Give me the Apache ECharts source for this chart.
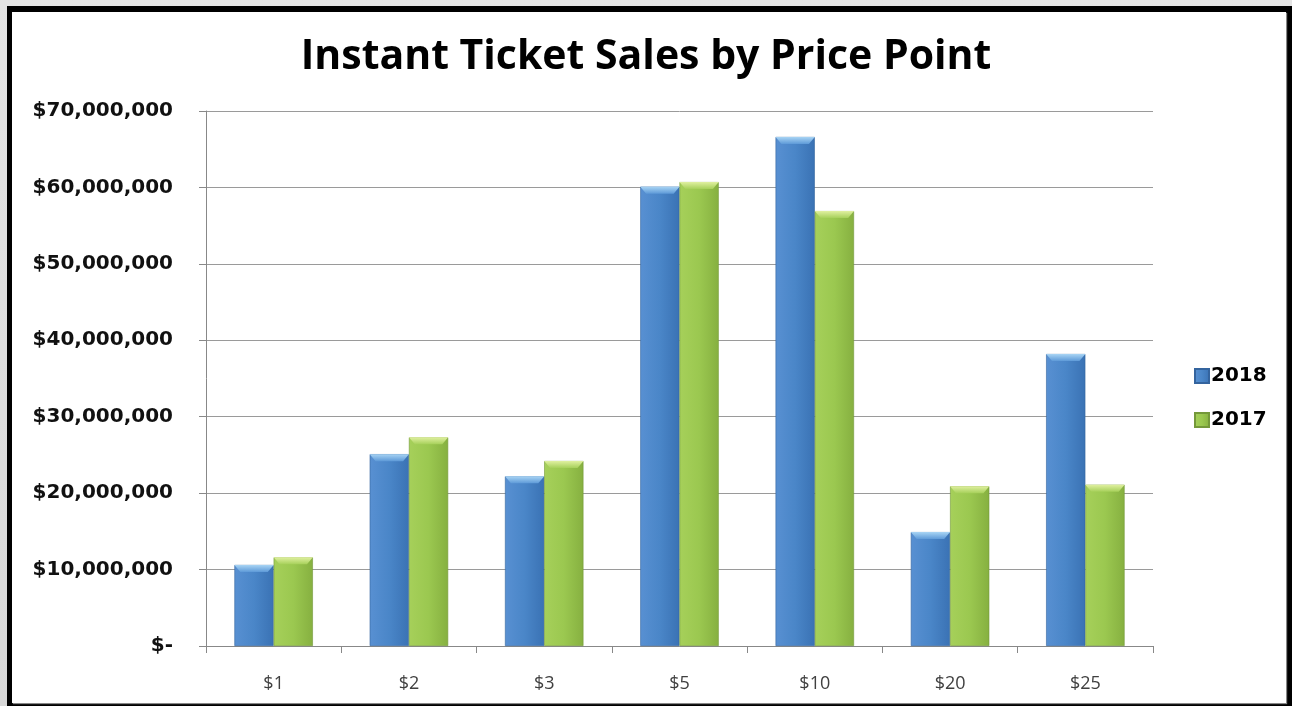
<!DOCTYPE html>
<html>
<head>
<meta charset="utf-8">
<script src="https://cdn.jsdelivr.net/npm/echarts@6/dist/echarts.min.js"></script>
<style>
html,body{margin:0;padding:0;width:1292px;height:706px;overflow:hidden;background:linear-gradient(#e4e4e4,#d8d8d8);}
#frame{position:absolute;left:7px;top:6px;width:1285px;height:700px;background:#000;}
#inner{position:absolute;left:12px;top:12px;width:1274px;height:691px;background:#fff;box-shadow:1px 1px 1px #888;}
#chart{position:absolute;left:0;top:0;width:1292px;height:706px;}
</style>
</head>
<body>
<div id="frame"></div>
<div id="inner"></div>
<div id="chart"></div>
<script>
const categories = ['$1', '$2', '$3', '$5', '$10', '$20', '$25'];
const sales2018 = [10600000, 25100000, 22200000, 60100000, 66600000, 14900000, 38200000];
const sales2017 = [11600000, 27300000, 24200000, 60700000, 56900000, 20900000, 21100000];
const yTicks = [0, 10000000, 20000000, 30000000, 40000000, 50000000, 60000000, 70000000];

function fmt(v){
  if (v === 0) return '$-';
  return '$' + v.toLocaleString('en-US');
}
const G = echarts.graphic;
const blueFill = new G.LinearGradient(0,0,1,0,[
  {offset:0,color:'#5890d2'},{offset:0.5,color:'#4a86c8'},{offset:1,color:'#3a72b4'}]);
const greenFill = new G.LinearGradient(0,0,1,0,[
  {offset:0,color:'#a6d05a'},{offset:0.5,color:'#9bc850'},{offset:1,color:'#86b040'}]);
const blueTop = new G.LinearGradient(0,0,0,1,[
  {offset:0,color:'#a8d4f4'},{offset:1,color:'#5e9ad8'}]);
const greenTop = new G.LinearGradient(0,0,0,1,[
  {offset:0,color:'#e0f0a0'},{offset:1,color:'#a6d05a'}]);
const bevel = 'path://M0,0 L20,0 L17,4 L3,4 Z';

const chart = echarts.init(document.getElementById('chart'));
chart.setOption({
  animation:false,
  backgroundColor:'transparent',
  title:{text:'Instant Ticket Sales by Price Point',left:'center',top:32,
    textStyle:{fontFamily:'Open Sans',fontWeight:'bold',fontSize:41,color:'#000'}},
  legend:{orient:'vertical',left:1189,top:361,itemWidth:14,itemHeight:14,itemGap:24,icon:'rect',
    data:['2018','2017'],
    textStyle:{fontFamily:'DejaVu Sans',fontWeight:'bold',fontSize:20,lineHeight:18,color:'#000',padding:[0,0,0,-3]}},
  grid:{left:206,top:111,right:139,bottom:60,containLabel:false},
  xAxis:{type:'category',data:categories,
    axisLine:{lineStyle:{color:'#888',width:1}},
    axisTick:{show:true,length:7,lineStyle:{color:'#888'}},
    axisLabel:{fontFamily:'Open Sans',fontSize:18,color:'#404040',margin:29}},
  yAxis:{type:'value',min:yTicks[0],max:yTicks[yTicks.length-1],interval:10000000,
    axisLine:{show:true,lineStyle:{color:'#888',width:1}},
    axisTick:{show:true,length:7,lineStyle:{color:'#888'}},
    splitLine:{lineStyle:{color:'#9a9a9a',width:1}},
    axisLabel:{fontFamily:'DejaVu Sans',fontWeight:'bold',fontSize:20,color:'#111',margin:33,formatter:fmt}},
  series:[
    {name:'2018',type:'bar',data:sales2018,barGap:'0%',barCategoryGap:'42%',
      itemStyle:{color:blueFill,borderColor:'#34649e',borderWidth:0.6}},
    {name:'2017',type:'bar',data:sales2017,barGap:'0%',barCategoryGap:'42%',
      itemStyle:{color:greenFill,borderColor:'#74983a',borderWidth:0.6}},
    {name:'2018',type:'pictorialBar',data:sales2018,barGap:'0%',barCategoryGap:'42%',
      symbol:bevel,symbolSize:['100%',7],symbolPosition:'end',symbolOffset:[0,0],
      itemStyle:{color:blueTop},z:5,silent:true},
    {name:'2017',type:'pictorialBar',data:sales2017,barGap:'0%',barCategoryGap:'42%',
      symbol:bevel,symbolSize:['100%',7],symbolPosition:'end',symbolOffset:[0,0],
      itemStyle:{color:greenTop},z:5,silent:true}
  ]
});
</script>
</body>
</html>
